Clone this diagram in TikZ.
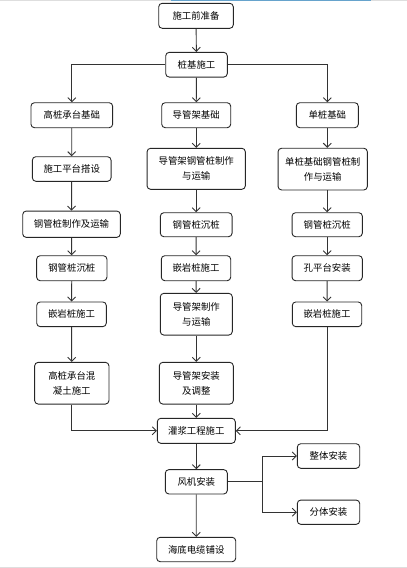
\documentclass[tikz,border=0pt]{standalone}
\usepackage{fontspec}
\setmainfont{Noto Sans CJK SC}
\usetikzlibrary{arrows.meta}
\begin{document}
\begin{tikzpicture}[x=1pt,y=-1pt,
  box/.style={draw=black!85,line width=0.9pt,rounded corners=3.5pt,inner sep=0pt,align=center,font=\fontsize{9.4}{15}\selectfont},
  arr/.style={draw=black!80,line width=0.9pt,-{Straight Barb[length=4pt,width=8pt]}},
  ln/.style={draw=black!80,line width=0.9pt}]
\useasboundingbox (0,0) rectangle (407,568);
\fill[black!13] (0,0) rectangle (407,1.3);
\fill[blue!40!cyan!50!gray!80] (171,0) rectangle (371,1.3);
\fill[black!13] (0,566.7) rectangle (407,568);
% row 0
\node[box,minimum width=74.6pt,minimum height=25pt] (a) at (196,15.8) {施工前准备};
\node[box,minimum width=61.6pt,minimum height=24.7pt] (b) at (196.5,64.7) {桩基施工};
% row 1
\node[box,minimum width=81.7pt,minimum height=25pt] (l1) at (71.8,115.2) {高桩承台基础};
\node[box,minimum width=69pt,minimum height=25pt] (m1) at (196.2,115.2) {导管架基础};
\node[box,minimum width=62pt,minimum height=25pt] (r1) at (327.3,115.2) {单桩基础};
% row 2
\node[box,minimum width=78.7pt,minimum height=24.6pt] (l2) at (71.7,169) {施工平台搭设};
\node[box,minimum width=98.3pt,minimum height=41pt] (m2) at (196.2,168.8) {导管架钢管桩制作\\与运输};
\node[box,minimum width=89.3pt,minimum height=41.7pt] (r2) at (322.7,169.1) {单桩基础钢管桩制\\作与运输};
% row 3
\node[box,minimum width=97.6pt,minimum height=26.3pt] (l3) at (71.5,224.2) {钢管桩制作及运输};
\node[box,minimum width=71.7pt,minimum height=24pt] (m3) at (196.2,224.7) {钢管桩沉桩};
\node[box,minimum width=70.3pt,minimum height=24pt] (r3) at (327.2,224.7) {钢管桩沉桩};
% row 4
\node[box,minimum width=70.3pt,minimum height=25pt] (l4) at (71.8,268.2) {钢管桩沉桩};
\node[box,minimum width=69.4pt,minimum height=25pt] (m4) at (196,268.2) {嵌岩桩施工};
\node[box,minimum width=70.3pt,minimum height=25pt] (r4) at (327.2,268.2) {孔平台安装};
% row 5
\node[box,minimum width=69.6pt,minimum height=24.7pt] (l5) at (71.5,314.3) {嵌岩桩施工};
\node[box,minimum width=72pt,minimum height=41.7pt] (m5) at (196.3,314.2) {导管架制作\\与运输};
\node[box,minimum width=69.4pt,minimum height=24.7pt] (r5) at (327,314.3) {嵌岩桩施工};
% row 6
\node[box,minimum width=74.3pt,minimum height=41.7pt] (l6) at (71.8,383.2) {高桩承台混\\凝土施工};
\node[box,minimum width=74pt,minimum height=41.7pt] (m6) at (196.3,383.2) {导管架安装\\及调整};
% lower
\node[box,minimum width=78pt,minimum height=25pt] (g) at (196.3,430.8) {灌浆工程施工};
\node[box,minimum width=62pt,minimum height=24.3pt] (f) at (196.3,481.8) {风机安装};
\node[box,minimum width=62.4pt,minimum height=24.6pt] (z) at (328.5,456) {整体安装};
\node[box,minimum width=62.4pt,minimum height=24.3pt] (s) at (328.5,512.2) {分体安装};
\node[box,minimum width=79pt,minimum height=24.4pt] (h) at (196.2,549.5) {海底电缆铺设};
% connectors
\draw[arr] (a) -- (b);
\draw[arr] (b.west) -| (l1.north);
\draw[arr] (b) -- (m1);
\draw[arr] (b.east) -| (r1.north);
\draw[arr] (l1) -- (l2);
\draw[arr] (l2) -- (l3);
\draw[arr] (l3) -- (l4);
\draw[arr] (l4) -- (l5);
\draw[arr] (l5) -- (l6);
\draw[arr] (m1) -- (m2);
\draw[arr] (m2) -- (m3);
\draw[arr] (m3) -- (m4);
\draw[arr] (m4) -- (m5);
\draw[arr] (m5) -- (m6);
\draw[arr] (m6) -- (g);
\draw[arr] (r1.south) -- (r1.south |- r2.north);
\draw[arr] (r3.north |- r2.south) -- (r3.north);
\draw[arr] (r3) -- (r4);
\draw[arr] (r4) -- (r5);
\draw[arr] (l6.south) |- (g.west);
\draw[arr] (r5.south) |- (g.east);
\draw[arr] (g) -- (f);
\draw[arr] (f) -- (h);
\coordinate (j) at (262.3,481.8);
\draw[ln] (f.east) -- (j);
\draw[arr] (j) |- (z.west);
\draw[arr] (j) |- (s.west);
\end{tikzpicture}
\end{document}
